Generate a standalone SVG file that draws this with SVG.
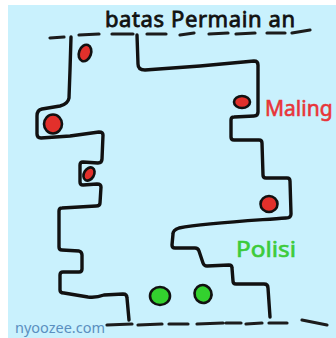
<svg xmlns="http://www.w3.org/2000/svg" width="336" height="338" viewBox="0 0 336 338">
  <style>
    .ink { fill: none; stroke: #111; stroke-width: 3.4; stroke-linecap: round; stroke-linejoin: round; }
    .dash { fill: none; stroke: #1c1c1c; stroke-width: 3.2; stroke-linecap: round; }
    .thief { fill: #e2302b; stroke: #111; stroke-width: 2.6; }
    .cop { fill: #33d12e; stroke: #111; stroke-width: 2.6; }
    .hand { font-family: "Noto Sans", "DejaVu Sans", sans-serif; }
  </style>

  <!-- paper -->
  <rect x="0" y="0" width="336" height="338" fill="#ffffff"/>
  <rect x="8" y="5" width="328" height="333" fill="#c9f1fd"/>

  <!-- title -->
  <g id="title">
    <text class="hand" x="105" y="27" font-size="22" fill="#111" stroke="#111" stroke-width="0.8" textLength="190" lengthAdjust="spacing">batas Permain an</text>
  </g>

  <!-- play-area boundary lines (dashed) -->
  <g id="boundary">
    <path class="dash" d="M50,38 L64,37 M79,35 L99,34 M112,34 L133,34 M147,34 L166,34 M180,35 L194,33 M209,34 L228,33 M236,34 L255,33 M267,33 L285,33 M292,33 L310,30"/>
    <path class="dash" d="M107,325 L132,324 M138,325 L162,324 M169,324 L188,324 M197,324 L223,323 M226,323 L241,323 M246,324 L262,323 M269,323 L287,323 M302,320 L327,325"/>
  </g>

  <!-- walls -->
  <g id="walls">
    <path id="wall-left" class="ink" d="M71,37 L70,70 L69,98 Q68,104 60,106 L42,109 Q37,110 37,116 L37,134 Q37,138 41,138 L70,136 L99,132 Q103,132 103,135 L102,159 Q102,163 98,163 L83,162 Q80,162 80,165 L80,182 Q80,185 83,185 L97,184 Q101,184 101,187 L100,203 Q100,206 96,206 L62,208 Q59,208 59,211 L59,247 Q59,250 62,250 L79,251 Q82,252 82,255 L82,269 Q82,272 79,272 L63,272 Q60,272 60,275 L60,290 Q60,293 64,293 L88,297 Q96,298 104,295 L123,294 Q127,294 127,298 L129,320"/>
    <path id="wall-right" class="ink" d="M137,35 L138,64 Q138,70 145,70 L200,66 L254,61 Q258,61 258,65 L258,112 Q258,116 254,116 L234,117 Q231,117 231,120 L231,137 Q231,140 234,140 L259,140 Q262,140 262,143 L263,175 Q263,178 266,178 L287,178 Q290,178 290,181 L291,214 Q291,218 286,218 C245,221 205,223 179,228 Q173,230 173,234 L172,245 Q172,248 175,248 L195,248 Q198,248 199,251 L203,263 Q204,266 207,266 L229,265 Q232,265 232,268 L233,281 Q233,284 236,284 L264,284 Q268,284 268,288 L270,317"/>
  </g>

  <!-- thieves -->
  <g id="maling">
    <ellipse class="thief" cx="85" cy="53" rx="6" ry="8.5" transform="rotate(20 85 53)"/>
    <ellipse class="thief" cx="53" cy="124" rx="9" ry="9.5"/>
    <ellipse class="thief" cx="89" cy="174" rx="5" ry="7" transform="rotate(30 89 174)"/>
    <ellipse class="thief" cx="242" cy="102" rx="8" ry="6"/>
    <ellipse class="thief" cx="269" cy="204" rx="8.5" ry="8"/>
    <text class="hand" x="265" y="116" font-size="21" fill="#e8353a" stroke="#e8353a" stroke-width="0.6">Maling</text>
  </g>

  <!-- police -->
  <g id="polisi">
    <ellipse class="cop" cx="160" cy="296" rx="10" ry="9"/>
    <ellipse class="cop" cx="203" cy="294" rx="8.5" ry="9" transform="rotate(-20 203 294)"/>
    <text class="hand" x="236" y="257" font-size="21" fill="#3ccb3a" stroke="#3ccb3a" stroke-width="0.6" textLength="60" lengthAdjust="spacingAndGlyphs">Polisi</text>
  </g>

  <!-- watermark -->
  <g id="watermark">
    <text class="hand" x="15" y="333" font-size="14" fill="#5a8fc0" textLength="90" lengthAdjust="spacingAndGlyphs">nyoozee.com</text>
  </g>
</svg>
